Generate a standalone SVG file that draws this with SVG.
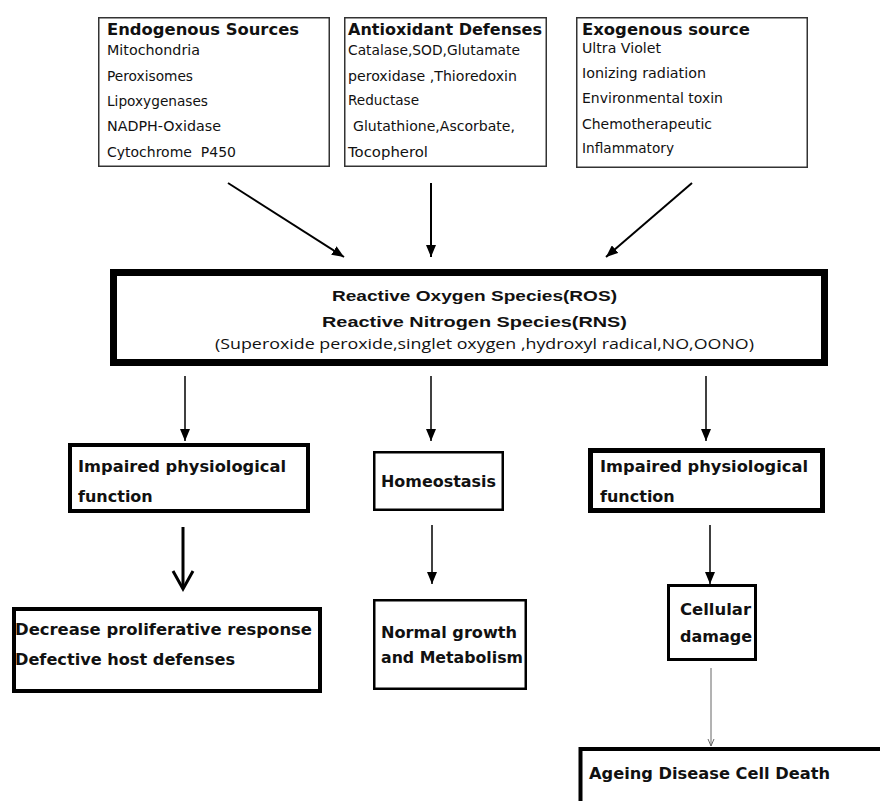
<svg xmlns="http://www.w3.org/2000/svg" width="880" height="801" viewBox="0 0 880 801">
<style>
.src{fill:#fff;stroke:#333;stroke-width:1.5}
.box{fill:#fff;stroke:#000}
.t{font-family:"DejaVu Sans",Verdana,sans-serif;font-weight:bold;font-size:16px;fill:#111}
.i{font-family:"DejaVu Sans",Verdana,sans-serif;font-size:13.5px;fill:#111}
.r{font-family:"Liberation Sans",Arial,sans-serif;font-weight:bold;font-size:15px;fill:#111}
.s{font-family:"Open Sans","DejaVu Sans",sans-serif;font-size:14.5px;fill:#111}
.ln{stroke:#000;fill:none}
</style>
<defs>
<marker id="ah" viewBox="0 0 12 10" refX="12" refY="5" markerWidth="12" markerHeight="10" markerUnits="userSpaceOnUse" orient="auto">
<path d="M0,0 L12,5 L0,10 z" fill="#000"/>
</marker>
</defs>
<rect width="880" height="801" fill="#fff"/>

<g id="endogenous">
<rect class="src" x="98.75" y="17.75" width="230.5" height="148.5"/>
<text class="t" x="107" y="35" textLength="192" lengthAdjust="spacingAndGlyphs">Endogenous Sources</text>
<text class="i" x="107" y="55" textLength="93" lengthAdjust="spacingAndGlyphs">Mitochondria</text>
<text class="i" x="107" y="81" textLength="86" lengthAdjust="spacingAndGlyphs">Peroxisomes</text>
<text class="i" x="107" y="106" textLength="101" lengthAdjust="spacingAndGlyphs">Lipoxygenases</text>
<text class="i" x="107" y="131" textLength="114" lengthAdjust="spacingAndGlyphs">NADPH-Oxidase</text>
<text class="i" x="107" y="157" textLength="129" lengthAdjust="spacingAndGlyphs" xml:space="preserve">Cytochrome  P450</text>
</g>

<g id="antioxidant">
<rect class="src" x="344.75" y="17.75" width="201.5" height="148.5"/>
<text class="t" x="348" y="35" textLength="194" lengthAdjust="spacingAndGlyphs">Antioxidant Defenses</text>
<text class="i" x="348" y="55" textLength="172" lengthAdjust="spacingAndGlyphs">Catalase,SOD,Glutamate</text>
<text class="i" x="348" y="81" textLength="169" lengthAdjust="spacingAndGlyphs">peroxidase ,Thioredoxin</text>
<text class="i" x="348" y="105" textLength="71" lengthAdjust="spacingAndGlyphs">Reductase</text>
<text class="i" x="353" y="131" textLength="162" lengthAdjust="spacingAndGlyphs">Glutathione,Ascorbate,</text>
<text class="i" x="348" y="157" textLength="80" lengthAdjust="spacingAndGlyphs">Tocopherol</text>
</g>

<g id="exogenous">
<rect class="src" x="576.75" y="17.75" width="230.5" height="149.5"/>
<text class="t" x="582" y="35" textLength="168" lengthAdjust="spacingAndGlyphs">Exogenous source</text>
<text class="i" x="582" y="52.5" textLength="79" lengthAdjust="spacingAndGlyphs">Ultra Violet</text>
<text class="i" x="582" y="77.5" textLength="124" lengthAdjust="spacingAndGlyphs">Ionizing radiation</text>
<text class="i" x="582" y="102.5" textLength="141" lengthAdjust="spacingAndGlyphs">Environmental toxin</text>
<text class="i" x="582" y="128.5" textLength="130" lengthAdjust="spacingAndGlyphs">Chemotherapeutic</text>
<text class="i" x="582" y="153" textLength="92" lengthAdjust="spacingAndGlyphs">Inflammatory</text>
</g>

<g id="ros">
<rect class="box" x="113.5" y="272.5" width="711" height="90" stroke-width="7"/>
<text class="r" x="332" y="301" textLength="285" lengthAdjust="spacingAndGlyphs">Reactive Oxygen Species(ROS)</text>
<text class="r" x="322" y="327" textLength="305" lengthAdjust="spacingAndGlyphs">Reactive Nitrogen Species(RNS)</text>
<text class="s" x="215" y="349" textLength="539" lengthAdjust="spacingAndGlyphs">(Superoxide peroxide,singlet oxygen ,hydroxyl radical,NO,OONO)</text>
</g>

<g id="impaired-left">
<rect class="box" x="70" y="445" width="238" height="66" stroke-width="4"/>
<text class="t" x="78" y="472" textLength="208" lengthAdjust="spacingAndGlyphs">Impaired physiological</text>
<text class="t" x="78" y="502">function</text>
</g>

<g id="homeostasis">
<rect class="box" x="374.25" y="452.25" width="128.5" height="57.5" stroke-width="2.5"/>
<text class="t" x="381" y="487" textLength="115" lengthAdjust="spacingAndGlyphs">Homeostasis</text>
</g>

<g id="impaired-right">
<rect class="box" x="590.5" y="450.5" width="232" height="60" stroke-width="5"/>
<text class="t" x="600" y="472" textLength="208" lengthAdjust="spacingAndGlyphs">Impaired physiological</text>
<text class="t" x="600" y="502">function</text>
</g>

<g id="decrease">
<rect class="box" x="14" y="609" width="306" height="82" stroke-width="4"/>
<text class="t" x="15" y="635" textLength="297" lengthAdjust="spacingAndGlyphs">Decrease proliferative response</text>
<text class="t" x="15" y="665" textLength="220" lengthAdjust="spacingAndGlyphs">Defective host defenses</text>
</g>

<g id="normal">
<rect class="box" x="374.25" y="600.25" width="151.5" height="88.5" stroke-width="2.5"/>
<text class="t" x="381" y="638" textLength="136" lengthAdjust="spacingAndGlyphs">Normal growth</text>
<text class="t" x="381" y="663" textLength="142" lengthAdjust="spacingAndGlyphs">and Metabolism</text>
</g>

<g id="cellular">
<rect class="box" x="668.5" y="585.5" width="87" height="74" stroke-width="3"/>
<text class="t" x="680" y="615" textLength="71" lengthAdjust="spacingAndGlyphs">Cellular</text>
<text class="t" x="680" y="642" textLength="72" lengthAdjust="spacingAndGlyphs">damage</text>
</g>

<g id="ageing">
<rect class="box" x="580.5" y="749" width="320" height="80" stroke-width="4"/>
<text class="t" x="589" y="779" textLength="241" lengthAdjust="spacingAndGlyphs">Ageing Disease Cell Death</text>
</g>

<g id="connectors">
<line class="ln" x1="228" y1="183" x2="344" y2="257" stroke-width="2" marker-end="url(#ah)"/>
<line class="ln" x1="431" y1="183" x2="431" y2="257" stroke-width="2" marker-end="url(#ah)"/>
<line class="ln" x1="692" y1="183" x2="606" y2="257" stroke-width="2" marker-end="url(#ah)"/>
<line class="ln" x1="185" y1="376" x2="185" y2="441" stroke-width="1.5" marker-end="url(#ah)"/>
<line class="ln" x1="431" y1="376" x2="431" y2="441" stroke-width="1.5" marker-end="url(#ah)"/>
<line class="ln" x1="706" y1="376" x2="706" y2="441" stroke-width="1.5" marker-end="url(#ah)"/>
<line class="ln" x1="183" y1="527" x2="183" y2="588" stroke-width="3"/>
<polyline class="ln" points="173,571 183,589 193,571" stroke-width="3"/>
<line class="ln" x1="432" y1="525" x2="432" y2="584" stroke-width="1.5" marker-end="url(#ah)"/>
<line class="ln" x1="710" y1="525" x2="710" y2="584" stroke-width="1.5" marker-end="url(#ah)"/>
<line x1="711" y1="668" x2="711" y2="746" stroke="#666" stroke-width="1"/>
<polyline points="708,739 711,746 714,739" fill="none" stroke="#666" stroke-width="1"/>
</g>
</svg>
